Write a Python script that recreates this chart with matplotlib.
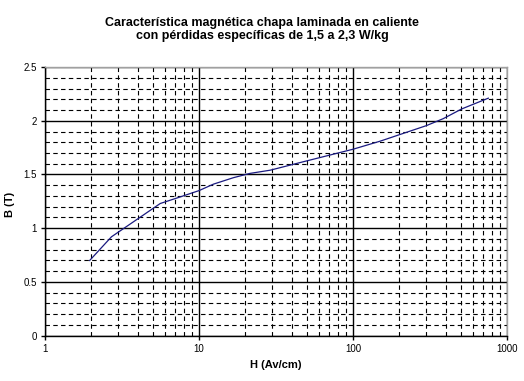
import matplotlib
matplotlib.use("Agg")
import matplotlib.pyplot as plt
from matplotlib.ticker import LogLocator, FixedLocator, NullFormatter, FuncFormatter

plt.rcParams['font.family'] = ['Liberation Sans', 'DejaVu Sans']

# curve: H (Av/cm) vs B (T)
h_values = [1.95, 2.7, 5.6, 7.5, 10, 12.4, 16.7, 21.4, 29, 48, 100, 150, 300, 386, 508, 756]
b_values = [0.70, 0.92, 1.23, 1.29, 1.35, 1.41, 1.47, 1.51, 1.54, 1.62, 1.735, 1.81, 1.955, 2.02, 2.11, 2.21]

x_ticks = [1, 10, 100, 1000]
y_ticks = [0, 0.5, 1, 1.5, 2, 2.5]
y_minor = [v / 10 for v in range(26) if v % 5 != 0]

title = "Característica magnética chapa laminada en caliente\ncon pérdidas específicas de 1,5 a 2,3 W/kg"

fig = plt.figure(figsize=(5.24, 3.81), dpi=100)
ax = fig.add_axes([0.0859, 0.1189, 0.8817, 0.7052])

ax.set_xscale('log')
ax.set_xlim(1, 1000)
ax.set_ylim(0, 2.5)

ax.set_xticks(x_ticks)
ax.xaxis.set_major_formatter(FuncFormatter(lambda v, p: '%g' % v))
ax.xaxis.set_minor_locator(LogLocator(base=10, subs=range(2, 10)))
ax.xaxis.set_minor_formatter(NullFormatter())
ax.set_yticks(y_ticks)
ax.yaxis.set_major_formatter(FuncFormatter(lambda v, p: '%g' % v))
ax.yaxis.set_minor_locator(FixedLocator(y_minor))

# grid like the old spreadsheet chart
ax.grid(which='major', color='black', linewidth=1.0, linestyle='-')
ax.grid(which='minor', color='black', linewidth=0.8, linestyle=(0, (4, 3)))
ax.set_axisbelow(True)

ax.tick_params(which='major', direction='out', length=3, width=1, labelsize=7, pad=3)
ax.tick_params(which='minor', length=0)

for side in ['top', 'right']:
    ax.spines[side].set_color('#a0a0a0')
    ax.spines[side].set_linewidth(1)
for side in ['left', 'bottom']:
    ax.spines[side].set_color('black')
    ax.spines[side].set_linewidth(1)

ax.plot(h_values, b_values, color='#1a1a80', linewidth=0.9)

ax.set_xlabel('H (Av/cm)', fontsize=8, fontweight='bold')
ax.set_ylabel('B (T)', fontsize=8, fontweight='bold')
ax.xaxis.set_label_coords(0.5, -0.09)
ax.yaxis.set_label_coords(-0.065, 0.49)
fig.text(0.5, 0.955, title, ha='center', va='top', fontsize=9, fontweight='bold', linespacing=1.12)

fig.savefig('out.png', dpi=100)
